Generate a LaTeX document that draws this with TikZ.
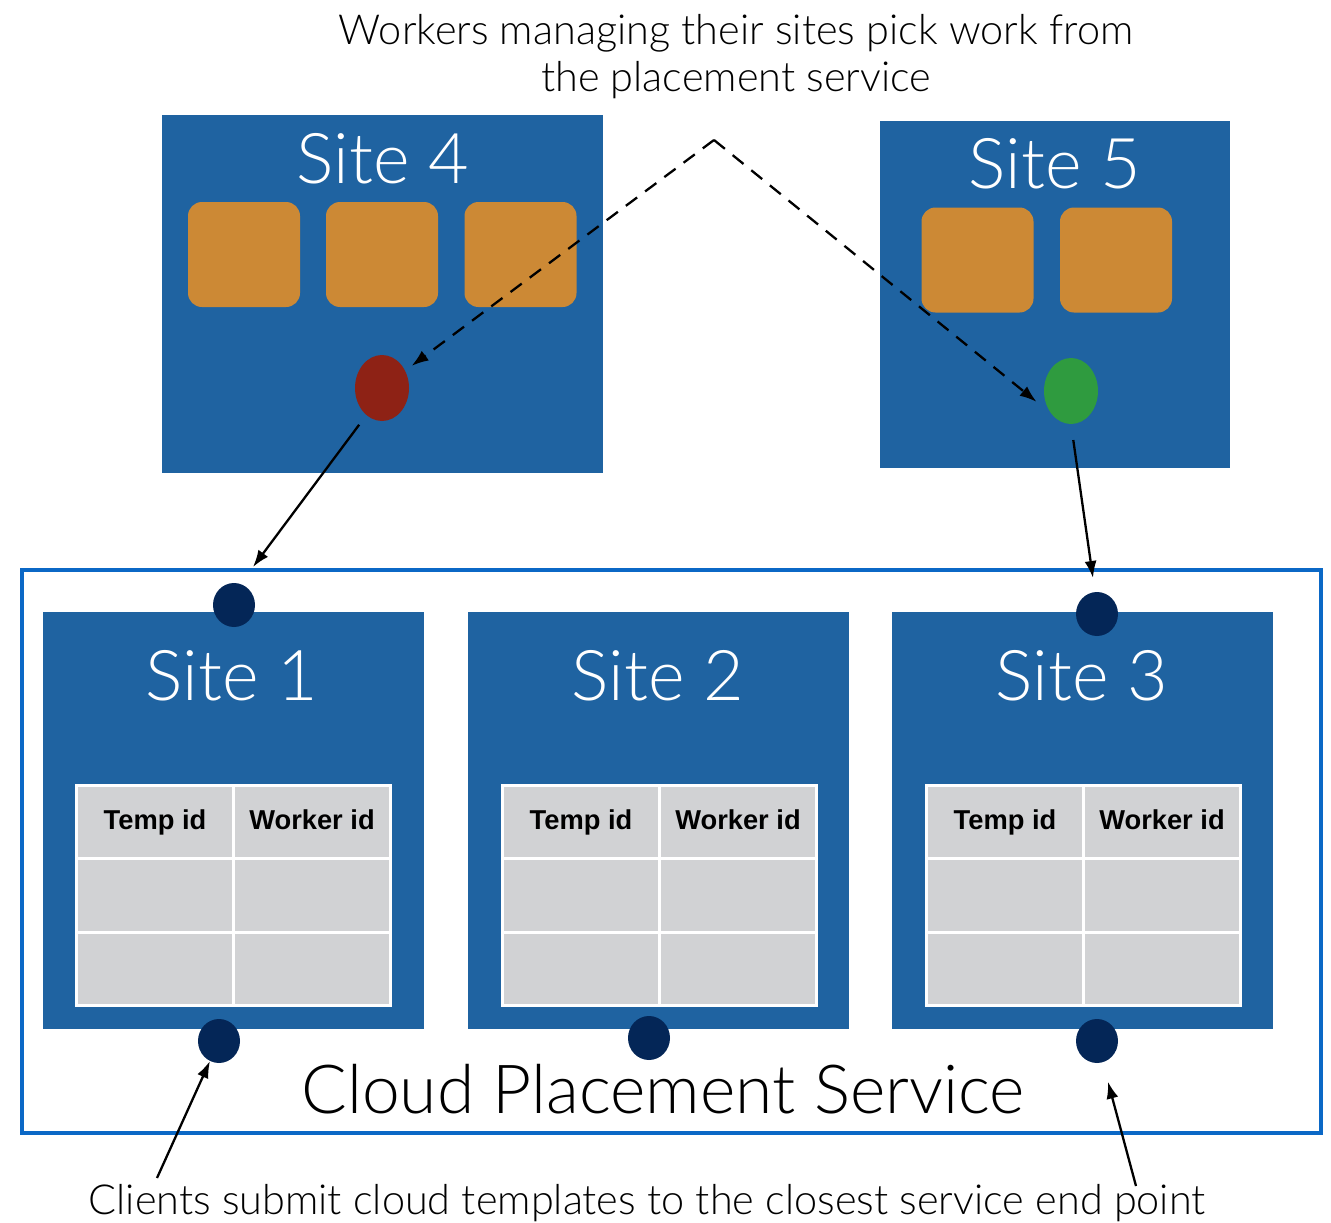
\documentclass[tikz,border=0pt]{standalone}
\usepackage{fontspec}
\setmainfont{Liberation Sans}
\newfontfamily\lightfont{Lato Light}
\newfontfamily\hdrfont{Liberation Sans Bold}
\usetikzlibrary{shapes.geometric,arrows.meta}
\definecolor{siteblue}{HTML}{1F63A1}
\definecolor{boxorange}{HTML}{CC8935}
\definecolor{workred}{HTML}{8E2215}
\definecolor{workgreen}{HTML}{2F9B3F}
\definecolor{dotnavy}{HTML}{042657}
\definecolor{outerblue}{HTML}{0B68C6}
\definecolor{cellgray}{HTML}{D1D2D4}
\tikzset{
  sitebox/.style={rectangle,fill=siteblue,inner sep=0pt},
  sitetitle/.style={text=white,font=\lightfont\fontsize{70}{74}\selectfont,anchor=base,inner sep=0pt},
  worker/.style={rectangle,rounded corners=14pt,fill=boxorange,inner sep=0pt,minimum width=112pt,minimum height=105pt},
  agent/.style={ellipse,inner sep=0pt,minimum width=54pt,minimum height=66pt},
  enddot/.style={ellipse,fill=dotnavy,inner sep=0pt,minimum width=42pt,minimum height=44pt},
  cell/.style={rectangle,fill=cellgray,draw=white,line width=3pt,inner sep=0pt,minimum width=157pt,minimum height=73.3pt,anchor=north west,text height=19pt,text depth=5pt,font=\hdrfont\fontsize{27.3}{30}\selectfont},
  outerbox/.style={rectangle,draw=outerblue,line width=4pt,inner sep=0pt},
  conn/.style={-{Latex[length=17pt,width=12pt]},line width=2.3pt,black},
  pickconn/.style={-{Latex[length=17pt,width=12pt]},line width=2.3pt,black,dash pattern=on 14pt off 10pt},
  caption/.style={font=\lightfont\fontsize{41.4}{47}\selectfont,inner sep=0pt,align=center},
}
\newcommand\SiteTable[3]{%
  \node[cell] (#1h1) at (#2,#3) {Temp id};
  \node[cell] (#1h2) at (#2+157,#3) {Worker id};
  \node[cell] (#1a1) at (#2,#3+73.3) {};
  \node[cell] (#1a2) at (#2+157,#3+73.3) {};
  \node[cell] (#1b1) at (#2,#3+146.6) {};
  \node[cell] (#1b2) at (#2+157,#3+146.6) {};
}
\begin{document}
\begin{tikzpicture}[x=1pt,y=-1pt]
\useasboundingbox[fill=white] (0,0) rectangle (1331,1223);

% outer service box
\node[outerbox,minimum width=1299pt,minimum height=563pt] (cps) at (671.5,851.5) {};

% sites 1-3
\node[sitebox,minimum width=381pt,minimum height=417pt] (s1) at (233.5,820.5) {};
\node[sitebox,minimum width=381pt,minimum height=417pt] (s2) at (658.5,820.5) {};
\node[sitebox,minimum width=381pt,minimum height=417pt] (s3) at (1082.5,820.5) {};
\node[sitetitle] (s1t) at (232,700) {Site 1};
\node[sitetitle] (s2t) at (658,700) {Site 2};
\node[sitetitle] (s3t) at (1082,700) {Site 3};
\SiteTable{ta}{75}{784}
\SiteTable{tb}{501}{784}
\SiteTable{tc}{925}{784}

% sites 4-5
\node[sitebox,minimum width=441pt,minimum height=358pt] (s4) at (382.5,294) {};
\node[sitebox,minimum width=350pt,minimum height=347pt] (s5) at (1055,294.5) {};
\node[sitetitle] (s4t) at (383,183) {Site 4};
\node[sitetitle] (s5t) at (1055,188) {Site 5};
\node[worker] (w41) at (244,254.5) {};
\node[worker] (w42) at (382,254.5) {};
\node[worker] (w43) at (520.5,254.5) {};
\node[worker] (w51) at (977.5,260) {};
\node[worker] (w52) at (1116,260) {};
\node[agent,fill=workred] (red) at (382,388) {};
\node[agent,fill=workgreen] (green) at (1071,391) {};

% end point dots
\node[enddot] (d1t) at (234,605) {};
\node[enddot] (d3t) at (1097,614) {};
\node[enddot] (d1b) at (219,1041) {};
\node[enddot] (d2b) at (649,1038) {};
\node[enddot] (d3b) at (1097,1041) {};

% texts
\node[font=\lightfont\fontsize{67.7}{72}\selectfont,anchor=base,inner sep=0pt] (cpst) at (663,1113) {Cloud Placement Service};
\node[caption,anchor=base] (clients) at (647,1214) {Clients submit cloud templates to the closest service end point};
\node[caption,anchor=center] (workers) at (736,57) {Workers managing their sites pick work from\\the placement service};

% connectors
\coordinate (apex) at (714,140);
\coordinate (t1) at (253,567);
\coordinate (t3) at (1093,578);
\coordinate (c1) at (157,1178);
\coordinate (c3) at (1136,1186);
\draw[pickconn,shorten >=8pt] (apex) -- (red);
\draw[pickconn] (apex) -- ([xshift=-9pt,yshift=1pt]green.205);
\draw[conn,shorten <=12pt] (red.240) -- (t1);
\draw[conn,shorten <=16pt] (green.south) -- (t3);
\draw[conn] (c1) -- (d1b);
\draw[conn,shorten >=20pt] (c3) -- (d3b);
\end{tikzpicture}
\end{document}
